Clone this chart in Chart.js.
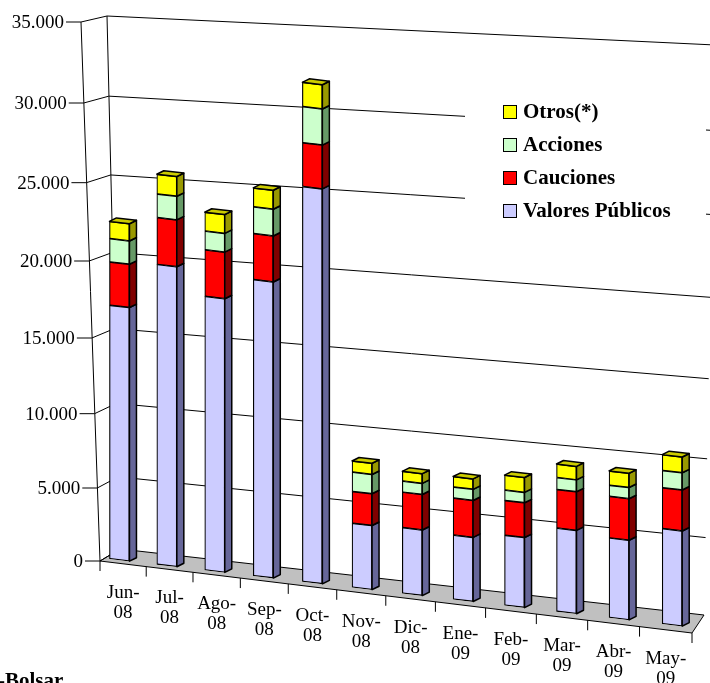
<!DOCTYPE html>
<html>
<head>
<meta charset="utf-8">
<script src="https://cdn.jsdelivr.net/npm/chart.js@4/dist/chart.umd.min.js"></script>
<style>
  html, body { margin: 0; padding: 0; background: #fff; }
  canvas { display: block; }
</style>
</head>
<body>
<canvas id="chart" width="710" height="683"></canvas>
<script>
// Months (two-line labels as in the original)
const months = [
    ['Jun-', '08'], ['Jul-', '08'], ['Ago-', '08'], ['Sep-', '08'], ['Oct-', '08'], ['Nov-', '08'],
    ['Dic-', '08'], ['Ene-', '09'], ['Feb-', '09'], ['Mar-', '09'], ['Abr-', '09'], ['May-', '09']
];

// Series values
const valoresPublicos = [17000, 20000, 18300, 19750, 26050, 4400, 4500, 4400, 4800, 5700, 5450, 6500];
const cauciones       = [2800, 3000, 3000, 2950, 2750, 2150, 2400, 2500, 2350, 2600, 2800, 2750];
const acciones        = [1500, 1500, 1200, 1700, 2250, 1300, 750, 750, 700, 800, 750, 1150];
const otros           = [1100, 1250, 1200, 1200, 1500, 750, 650, 700, 1000, 900, 950, 1050];

// Value axis ticks
const yTicks = [0, 5000, 10000, 15000, 20000, 25000, 30000, 35000];

const FONT = '"Liberation Serif", "Times New Roman", serif';

// Perspective look: slight non-linear spacing on both axes
const X_WARP = 0.069;
const Y_WARP = 0.0607;
const warp = (d, s) => d * (1 - s) + s * d * d;

class PerspLinear extends Chart.LinearScale {
    getPixelForValue(value) {
        const d = (value - this._startValue) / this._valueRange;
        return this.getPixelForDecimal(warp(d, Y_WARP));
    }
}
PerspLinear.id = 'perspLinear';

class PerspCategory extends Chart.CategoryScale {
    getPixelForValue(value) {
        if (typeof value !== 'number') value = this.parse(value);
        return this.getPixelForDecimal(warp((value - this._startValue) / this._valueRange, X_WARP));
    }
}
PerspCategory.id = 'perspCategory';

Chart.register(PerspLinear, PerspCategory);

// floor slope of the bars and depth of the 3D faces
const SKEW = 0.1175, SKEW_X0 = 128;
const DEPTH = { x: 7, y: -4.3 };

function fmt(v) {
    return String(v).replace(/\B(?=(\d{3})+(?!\d))/g, '.');
}

function poly(ctx, pts, fill) {
    ctx.beginPath();
    ctx.moveTo(pts[0].x, pts[0].y);
    for (let i = 1; i < pts.length; i++) ctx.lineTo(pts[i].x, pts[i].y);
    ctx.closePath();
    if (fill) {
        ctx.fillStyle = fill;
        ctx.fill();
    }
    ctx.stroke();
}

// frame geometry helpers
function frontPt(chart, v) {
    const t = v / yTicks[yTicks.length - 1];
    return { x: 100 - 19 * t, y: chart.scales.y.getPixelForValue(v) };
}
function backLeftPt(chart, v) {
    const t = v / yTicks[yTicks.length - 1];
    const f = frontPt(chart, v);
    return { x: f.x + 20 + 6 * t, y: f.y - 12 + 6 * t };
}
function backRightPt(chart, v) {
    const t = v / yTicks[yTicks.length - 1];
    const f = frontPt(chart, v);
    return { x: 704 + 11 * t, y: f.y + 54 - 31 * t };
}
const FLOOR_FRONT_RIGHT = { x: 692, y: 633 };

function floorTicks(chart) {
    const xs = chart.scales.x, area = chart.chartArea;
    const f0 = frontPt(chart, 0);
    const out = [];
    for (let i = 0; i <= months.length; i++) {
        const px = xs.getPixelForValue(i - 0.5);
        const fx = f0.x + (px - area.left) / (area.right - area.left) * (FLOOR_FRONT_RIGHT.x - f0.x);
        const fy = f0.y + (fx - f0.x) * (FLOOR_FRONT_RIGHT.y - f0.y) / (FLOOR_FRONT_RIGHT.x - f0.x);
        out.push({ x: fx, y: fy });
    }
    return out;
}

const frame3d = {
    id: 'frame3d',
    beforeDatasetsDraw(chart) {
        const ctx = chart.ctx;
        const top = yTicks[yTicks.length - 1];
        ctx.save();
        ctx.strokeStyle = '#000';
        ctx.lineWidth = 1;

        // floor
        poly(ctx, [frontPt(chart, 0), backLeftPt(chart, 0), backRightPt(chart, 0), FLOOR_FRONT_RIGHT], '#c0c0c0');

        // gridlines: left wall diagonals + back wall
        yTicks.forEach(v => {
            const f = frontPt(chart, v), l = backLeftPt(chart, v), r = backRightPt(chart, v);
            ctx.beginPath();
            ctx.moveTo(f.x, f.y);
            ctx.lineTo(l.x, l.y);
            if (v > 0) ctx.lineTo(r.x, r.y);
            ctx.stroke();
        });

        // wall edges + value axis
        ctx.beginPath();
        let a = backLeftPt(chart, 0), b = backLeftPt(chart, top);
        ctx.moveTo(a.x, a.y); ctx.lineTo(b.x, b.y);
        a = frontPt(chart, 0); b = frontPt(chart, top);
        ctx.moveTo(a.x, a.y); ctx.lineTo(b.x, b.y);
        yTicks.forEach(v => {
            const f = frontPt(chart, v);
            ctx.moveTo(f.x - 15, f.y); ctx.lineTo(f.x, f.y);
        });
        // category ticks on the floor front edge
        floorTicks(chart).forEach(p => {
            ctx.moveTo(p.x, p.y); ctx.lineTo(p.x, p.y + 10);
        });
        ctx.stroke();
        ctx.restore();

        // bars get drawn on the sloping floor
        ctx.save();
        ctx.transform(1, SKEW, 0, 1, 0, -SKEW * SKEW_X0);
    },
    afterDatasetsDraw(chart) {
        const ctx = chart.ctx;
        ctx.strokeStyle = '#000';
        ctx.lineWidth = 1.5;
        ctx.lineJoin = 'round';
        const n = chart.data.labels.length;
        for (let j = 0; j < n; j++) {
            let topSeg = null;
            chart.data.datasets.forEach((ds, i) => {
                const bar = chart.getDatasetMeta(i).data[j];
                if (!bar || !ds.data[j]) return;
                const p = bar.getProps(['x', 'y', 'base', 'width'], true);
                const left = p.x - p.width / 2, right = p.x + p.width / 2;
                const yTop = Math.min(p.y, p.base), yBot = Math.max(p.y, p.base);
                poly(ctx, [
                    { x: right, y: yTop },
                    { x: right + DEPTH.x, y: yTop + DEPTH.y },
                    { x: right + DEPTH.x, y: yBot + DEPTH.y },
                    { x: right, y: yBot }
                ], ds.sideColor);
                topSeg = { left, right, yTop, color: ds.topColor };
            });
            if (topSeg) {
                poly(ctx, [
                    { x: topSeg.left, y: topSeg.yTop },
                    { x: topSeg.left + DEPTH.x, y: topSeg.yTop + DEPTH.y },
                    { x: topSeg.right + DEPTH.x, y: topSeg.yTop + DEPTH.y },
                    { x: topSeg.right, y: topSeg.yTop }
                ], topSeg.color);
            }
        }
        ctx.restore();
    },
    afterDraw(chart) {
        const ctx = chart.ctx;
        ctx.save();
        ctx.fillStyle = '#000';

        // value axis labels
        ctx.font = '19px ' + FONT;
        ctx.textAlign = 'right';
        ctx.textBaseline = 'middle';
        yTicks.forEach(v => {
            const f = frontPt(chart, v);
            ctx.fillText(fmt(v), f.x - 17, f.y + 1);
        });

        // category labels
        ctx.textAlign = 'center';
        const ticks = floorTicks(chart);
        months.forEach((m, i) => {
            const cx = (ticks[i].x + ticks[i + 1].x) / 2;
            const cy = (ticks[i].y + ticks[i + 1].y) / 2;
            ctx.fillText(m[0], cx, cy + 29);
            ctx.fillText(m[1], cx, cy + 49);
        });

        // legend
        ctx.fillStyle = '#fff';
        ctx.fillRect(465, 85, 241, 158);
        ctx.font = 'bold 21px ' + FONT;
        ctx.textAlign = 'left';
        ctx.strokeStyle = '#000';
        ctx.lineWidth = 1;
        const items = chart.data.datasets.slice().reverse();
        items.forEach((ds, k) => {
            const cy = 112 + k * 33;
            ctx.fillStyle = ds.backgroundColor;
            ctx.fillRect(503.5, cy - 6.5, 13, 13);
            ctx.strokeRect(503.5, cy - 6.5, 13, 13);
            ctx.fillStyle = '#000';
            ctx.fillText(ds.label, 523, cy + 1);
        });

        // source note (cut off at the bottom edge in the original)
        ctx.textBaseline = 'alphabetic';
        ctx.fillText('-Bolsar', -2, 687);
        ctx.restore();
    }
};

new Chart(document.getElementById('chart'), {
    type: 'bar',
    data: {
        labels: months.map(m => m.join('')),
        datasets: [
            { label: 'Valores Públicos', data: valoresPublicos, backgroundColor: '#ccccff', sideColor: '#666699', topColor: '#9999cc' },
            { label: 'Cauciones', data: cauciones, backgroundColor: '#ff0000', sideColor: '#800000', topColor: '#cc0000' },
            { label: 'Acciones', data: acciones, backgroundColor: '#ccffcc', sideColor: '#669966', topColor: '#99cc99' },
            { label: 'Otros(*)', data: otros, backgroundColor: '#ffff00', sideColor: '#999900', topColor: '#cccc00' }
        ]
    },
    options: {
        responsive: false,
        animation: false,
        devicePixelRatio: 1,
        events: [],
        layout: { padding: { left: 96, right: 11, top: 22, bottom: 122 } },
        datasets: {
            bar: { barThickness: 20, borderWidth: 1.2, borderColor: '#000', borderSkipped: false, clip: false }
        },
        scales: {
            x: { type: 'perspCategory', stacked: true, offset: true, display: false },
            y: { type: 'perspLinear', stacked: true, min: 0, max: 35000, display: false }
        },
        plugins: {
            legend: { display: false },
            tooltip: { enabled: false }
        }
    },
    plugins: [frame3d]
});
</script>
</body>
</html>
